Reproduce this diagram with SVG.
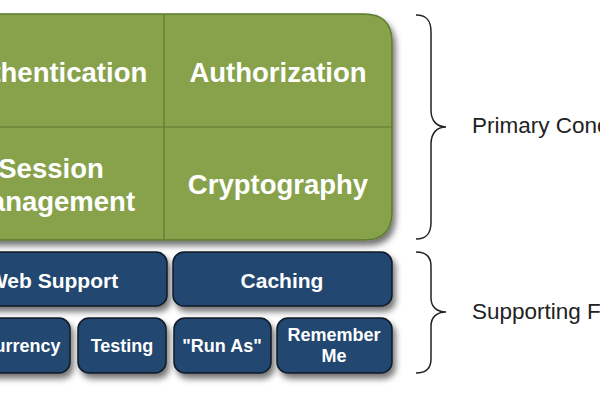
<svg xmlns="http://www.w3.org/2000/svg" width="600" height="400" viewBox="0 0 600 400">
<defs>
<filter id="sh" x="-20%" y="-20%" width="140%" height="150%">
<feGaussianBlur in="SourceAlpha" stdDeviation="3"/>
<feOffset dx="3" dy="5" result="b"/>
<feComponentTransfer><feFuncA type="linear" slope="0.55"/></feComponentTransfer>
<feMerge><feMergeNode/><feMergeNode in="SourceGraphic"/></feMerge>
</filter>
<style>
.g{fill:#87a24b;stroke:#5f7a30;stroke-width:1.5}
.gl{stroke:#5f7a30;stroke-width:1.2}
.b{fill:#21466f;stroke:#0e1a28;stroke-width:1.5}
.tg{font-family:"Liberation Sans",Arial,sans-serif;font-weight:bold;font-size:27.5px;fill:#fff;text-anchor:middle}
.tb1{font-family:"Liberation Sans",Arial,sans-serif;font-weight:bold;font-size:21px;fill:#fff;text-anchor:middle}
.tb2{font-family:"Liberation Sans",Arial,sans-serif;font-weight:bold;font-size:18px;fill:#fff;text-anchor:middle}
.lbl{font-family:"Liberation Sans",Arial,sans-serif;font-size:22.5px;fill:#222}
.br{fill:none;stroke:#222;stroke-width:1.5}
</style>
</defs>
<rect width="600" height="400" fill="#fff"/>
<g id="primary" filter="url(#sh)">
<path class="g" d="M-60,14 H364 Q392,14 392,42 V212 Q392,240 364,240 H-60 Z"/>
<line class="gl" x1="164" y1="14" x2="164" y2="240"/>
<line class="gl" x1="-60" y1="127" x2="392" y2="127"/>
</g>
<g id="authentication"><text class="tg" x="51" y="82">Authentication</text></g>
<g id="authorization"><text class="tg" x="278" y="82">Authorization</text></g>
<g id="session"><text class="tg" x="51" y="178">Session</text><text class="tg" x="51" y="211">Management</text></g>
<g id="cryptography"><text class="tg" x="278" y="194">Cryptography</text></g>
<g id="websupport"><rect class="b" filter="url(#sh)" x="-60" y="252" width="227" height="54" rx="11"/><text class="tb1" x="53" y="288">Web Support</text></g>
<g id="caching"><rect class="b" filter="url(#sh)" x="173" y="252" width="219" height="54" rx="11"/><text class="tb1" x="282" y="288">Caching</text></g>
<g id="concurrency"><rect class="b" filter="url(#sh)" x="-60" y="318" width="130" height="55" rx="11"/><text class="tb2" x="5" y="352">Concurrency</text></g>
<g id="testing"><rect class="b" filter="url(#sh)" x="78" y="318" width="88" height="55" rx="11"/><text class="tb2" x="122" y="352">Testing</text></g>
<g id="runas"><rect class="b" filter="url(#sh)" x="174" y="318" width="97" height="55" rx="11"/><text class="tb2" x="222" y="352">"Run As"</text></g>
<g id="rememberme"><rect class="b" filter="url(#sh)" x="277" y="318" width="115" height="55" rx="11"/><text class="tb2" x="334" y="341">Remember</text><text class="tb2" x="334" y="362">Me</text></g>
<g id="connectors">
<path class="br" d="M416,15 C427,15 431,21 431,32 L431,110 C431,121 437,127 446,127 C437,127 431,133 431,144 L431,222 C431,233 427,239 416,239"/>
<path class="br" d="M416,252 C427,252 431,257 431,266 L431,298 C431,307 437,312 446,312 C437,312 431,317 431,326 L431,359 C431,368 427,373 416,373"/>
</g>
<g id="labels">
<text class="lbl" x="472" y="133">Primary Concerns</text>
<text class="lbl" x="472" y="319">Supporting Features</text>
</g>
</svg>
